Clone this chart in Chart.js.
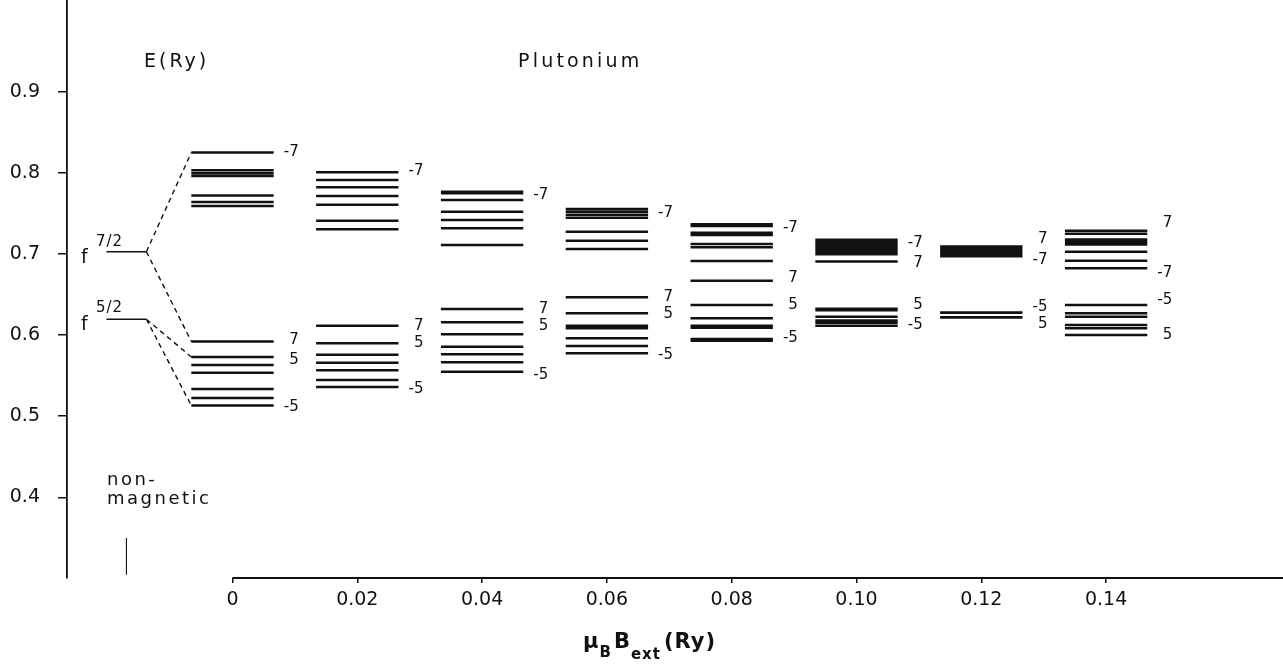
<!DOCTYPE html>
<html>
<head>
<meta charset="utf-8">
<script src="https://cdn.jsdelivr.net/npm/chart.js@4.4.1/dist/chart.umd.min.js"></script>
<style>
  html, body { margin: 0; padding: 0; background: #fff; }
  canvas { display: block; }
</style>
</head>
<body>
<canvas id="levels" width="1283" height="666"></canvas>
<script>
// External field values (Ry) and their tick labels
const fieldValues = [0, 0.02, 0.04, 0.06, 0.08, 0.10, 0.12, 0.14];
const fieldTickLabels = ['0', '0.02', '0.04', '0.06', '0.08', '0.10', '0.12', '0.14'];
const energyTicks = [0.4, 0.5, 0.6, 0.7, 0.8, 0.9];

// Non-magnetic f levels (Ry): f7/2, f5/2
const nonMagneticLevels = [0.7027, 0.6194];

// f-level energies (Ry) for each external field
const levelsB000 = [0.825, 0.803, 0.7995, 0.796, 0.772, 0.764, 0.759, 0.592, 0.573, 0.563, 0.5536, 0.5335, 0.5225, 0.513];
const levelsB002 = [0.8008, 0.791, 0.7822, 0.7714, 0.7607, 0.7409, 0.7303, 0.6115, 0.5898, 0.5757, 0.5659, 0.5565, 0.5446, 0.5359];
const levelsB004 = [0.7767, 0.7747, 0.7664, 0.752, 0.7418, 0.7315, 0.711, 0.6321, 0.6157, 0.6009, 0.5856, 0.5762, 0.5664, 0.5548];
const levelsB006 = [0.7553, 0.752, 0.7483, 0.7446, 0.7274, 0.7163, 0.706, 0.6465, 0.6268, 0.6115, 0.6083, 0.596, 0.5865, 0.5775];
const levelsB008 = [0.7365, 0.7345, 0.7261, 0.7233, 0.7122, 0.7081, 0.6912, 0.667, 0.637, 0.6206, 0.6115, 0.609, 0.595, 0.593];
const levelsB010 = [0.7175, 0.7145, 0.7115, 0.7085, 0.7055, 0.7025, 0.6995, 0.6905, 0.6325, 0.6305, 0.6225, 0.618, 0.615, 0.6115];
const levelsB012 = [0.709, 0.7072, 0.7055, 0.7038, 0.702, 0.7003, 0.6985, 0.697, 0.6277, 0.6275, 0.6273, 0.622, 0.6218, 0.6216];
const levelsB014 = [0.7286, 0.7249, 0.7178, 0.7147, 0.7116, 0.7027, 0.6917, 0.6823, 0.637, 0.6268, 0.6226, 0.6124, 0.6083, 0.6];

// 2*m_j labels and the energy at which each is written
const mjLabelsB000 = [['-7', 0.825], ['7', 0.5939], ['5', 0.5692], ['-5', 0.5113]];
const mjLabelsB002 = [['-7', 0.8022], ['7', 0.6115], ['5', 0.5905], ['-5', 0.5335]];
const mjLabelsB004 = [['-7', 0.7726], ['7', 0.6321], ['5', 0.6115], ['-5', 0.5511]];
const mjLabelsB006 = [['-7', 0.7504], ['7', 0.6472], ['5', 0.6259], ['-5', 0.5754]];
const mjLabelsB008 = [['-7', 0.7316], ['7', 0.6703], ['5', 0.637], ['-5', 0.5963]];
const mjLabelsB010 = [['-7', 0.7131], ['7', 0.6884], ['5', 0.637], ['-5', 0.6124]];
const mjLabelsB012 = [['7', 0.718], ['-7', 0.6925], ['-5', 0.6349], ['5', 0.6136]];
const mjLabelsB014 = [['7', 0.7377], ['-7', 0.6761], ['-5', 0.6432], ['5', 0.6]];

const levelSets = [levelsB000, levelsB002, levelsB004, levelsB006, levelsB008, levelsB010, levelsB012, levelsB014];
const mjLabelSets = [mjLabelsB000, mjLabelsB002, mjLabelsB004, mjLabelsB006, mjLabelsB008, mjLabelsB010, mjLabelsB012, mjLabelsB014];

// Drawing geometry (in axis units)
const HALF = 0.0066;          // half length of a level bar
const NM_X = -0.0170;         // column of the non-magnetic levels
const NM_HALF = 0.0032;
const INK = '#111';
const FONT = 'DejaVu Sans';

function bars(center, values, half) {
  const pts = [];
  values.forEach(v => {
    pts.push({ x: center - half, y: v }, { x: center + half, y: v }, { x: center, y: null });
  });
  return pts;
}

const datasets = [];
fieldValues.forEach((b, i) => {
  datasets.push({
    label: 'B=' + fieldTickLabels[i],
    data: bars(b, levelSets[i], HALF),
    borderColor: INK, borderWidth: 2.5, pointRadius: 0, spanGaps: false, tension: 0
  });
});
datasets.push({
  label: 'non-magnetic',
  data: bars(NM_X, nonMagneticLevels, NM_HALF),
  borderColor: INK, borderWidth: 1.6, pointRadius: 0, spanGaps: false
});
// dashed correlation lines from the non-magnetic levels to the split levels at B = 0
const nmRight = NM_X + NM_HALF;
const b0Left = fieldValues[0] - HALF;
datasets.push({
  label: 'correlation',
  data: [
    { x: nmRight, y: nonMagneticLevels[0] }, { x: b0Left, y: levelsB000[0] }, { x: nmRight, y: null },
    { x: nmRight, y: nonMagneticLevels[0] }, { x: b0Left, y: levelsB000[7] }, { x: nmRight, y: null },
    { x: nmRight, y: nonMagneticLevels[1] }, { x: b0Left, y: levelsB000[8] }, { x: nmRight, y: null },
    { x: nmRight, y: nonMagneticLevels[1] }, { x: b0Left, y: levelsB000[13] }
  ],
  borderColor: INK, borderWidth: 1.4, borderDash: [5, 4], pointRadius: 0, spanGaps: false
});
// short marker of the non-magnetic column above the field axis
datasets.push({
  label: 'marker',
  data: [{ x: NM_X, y: 0.3498 }, { x: NM_X, y: 0.3045 }],
  borderColor: INK, borderWidth: 1.1, pointRadius: 0
});

function spaced(ctx, text, x, y, spacing) {
  ctx.save();
  if ('letterSpacing' in ctx) ctx.letterSpacing = spacing + 'px';
  ctx.fillText(text, x, y);
  const w = ctx.measureText(text).width;
  ctx.restore();
  return w;
}

const annotations = {
  id: 'annotations',
  afterDraw(chart) {
    const ctx = chart.ctx;
    const xs = chart.scales.x, ys = chart.scales.y;
    ctx.save();
    ctx.fillStyle = INK;
    ctx.strokeStyle = INK;

    // field axis line, starting at B = 0
    ctx.lineWidth = 1.8;
    ctx.beginPath();
    ctx.moveTo(xs.getPixelForValue(0), chart.chartArea.bottom);
    ctx.lineTo(chart.chartArea.right, chart.chartArea.bottom);
    ctx.stroke();

    // m_j labels to the right of each group
    ctx.font = '15px "' + FONT + '"';
    ctx.textAlign = 'right';
    ctx.textBaseline = 'middle';
    fieldValues.forEach((b, i) => {
      const xr = xs.getPixelForValue(b + HALF) + 25;
      mjLabelSets[i].forEach(([t, v]) => ctx.fillText(t, xr, ys.getPixelForValue(v)));
    });

    // headings
    ctx.textAlign = 'left';
    ctx.textBaseline = 'alphabetic';
    ctx.font = '19px "' + FONT + '"';
    spaced(ctx, 'E(Ry)', 144, 67, 3);
    spaced(ctx, 'Plutonium', 518, 67, 3.2);
    ctx.font = '18px "' + FONT + '"';
    spaced(ctx, 'non-', 107, 485, 2.5);
    spaced(ctx, 'magnetic', 107, 504, 2.5);

    // f7/2 and f5/2
    const fl = (sup, v, dySup) => {
      const y = ys.getPixelForValue(v);
      ctx.font = '19px "' + FONT + '"';
      ctx.fillText('f', 81, y + 11);
      ctx.font = '15px "' + FONT + '"';
      spaced(ctx, sup, 96, y - dySup, 1);
    };
    fl('7/2', nonMagneticLevels[0], 6);
    fl('5/2', nonMagneticLevels[1], 7);

    // field axis title: mu_B B_ext (Ry)
    let x = 583;
    const base = 648;
    const big = 'bold 21px "' + FONT + '"';
    const small = 'bold 15px "' + FONT + '"';
    ctx.font = big;   x += spaced(ctx, '\u03bc', x, base, 1);
    ctx.font = small; x += spaced(ctx, 'B', x, base + 9, 1) + 2;
    ctx.font = big;   x += spaced(ctx, 'B', x, base, 1);
    ctx.font = small; x += spaced(ctx, 'ext', x, base + 11, 1);
    ctx.font = big;   spaced(ctx, '(Ry)', x + 3, base, 1);
    ctx.restore();
  }
};

new Chart(document.getElementById('levels'), {
  type: 'line',
  data: { datasets },
  options: {
    responsive: false,
    devicePixelRatio: 1,
    animation: false,
    events: [],
    layout: { padding: 0 },
    plugins: { legend: { display: false }, tooltip: { enabled: false }, title: { display: false } },
    scales: {
      x: {
        type: 'linear',
        position: 'bottom',
        min: -0.026522,
        max: 0.16835,
        afterBuildTicks: s => { s.ticks = fieldValues.map(v => ({ value: v })); },
        afterFit: s => { s.height = 88; s.paddingLeft = 0; s.paddingRight = 0; },
        border: { display: false },
        grid: { drawOnChartArea: false, drawTicks: true, tickLength: 5, color: INK, lineWidth: 1.5 },
        ticks: {
          autoSkip: false, maxRotation: 0, minRotation: 0, padding: 6, color: INK,
          font: { family: FONT, size: 19 },
          callback: (v, i) => fieldTickLabels[i]
        }
      },
      y: {
        type: 'linear',
        position: 'left',
        min: 0.30046,
        max: 1.013,
        afterBuildTicks: s => { s.ticks = energyTicks.map(v => ({ value: v })); },
        afterFit: s => { s.width = 67; s.paddingTop = 0; s.paddingBottom = 0; },
        border: { display: true, color: INK, width: 1.8 },
        grid: { drawOnChartArea: false, drawTicks: true, tickLength: 9, color: INK, lineWidth: 1.5 },
        ticks: {
          padding: 18, color: INK,
          font: { family: FONT, size: 19 },
          callback: v => v.toFixed(1)
        }
      }
    }
  },
  plugins: [annotations]
});
</script>
</body>
</html>
